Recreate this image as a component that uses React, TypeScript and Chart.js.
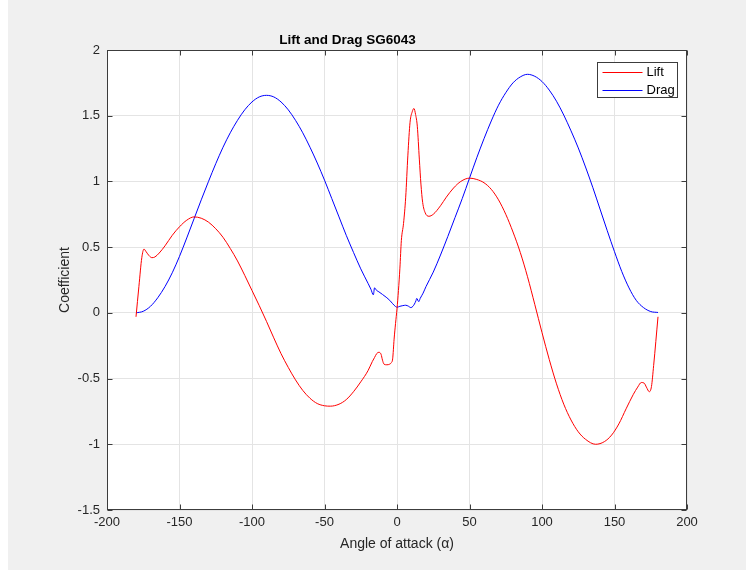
import React, { useEffect, useRef } from "react";
import { Chart, registerables } from "chart.js";

Chart.register(...registerables);

const chartTitle = "Lift and Drag SG6043";
const xAxisTitle = "Angle of attack (\u03b1)";
const yAxisTitle = "Coefficient";
const seriesNames = ["Lift", "Drag"];
const seriesColors = ["#ff0000", "#0000ff"];

const xTickValues = [-200, -150, -100, -50, 0, 50, 100, 150, 200];
const yTickValues = [-1.5, -1, -0.5, 0, 0.5, 1, 1.5, 2];

const liftAngles = [
  -180, -178, -176, -174.5, -173, -171, -169, -167, -164, -160, -155, -150, -145, -140, -135, -130,
  -125, -120, -115, -110, -105, -100, -95, -90, -85, -80, -75, -70, -65, -60, -55, -50, -46, -40,
  -35, -30, -25, -20, -17, -15.5, -14, -12.5, -11, -10, -9, -7, -5, -4, -3, -2, -1, 0, 1, 2, 3, 4.5,
  6, 7.5, 9, 10.5, 11.7, 12.8, 14, 15.4, 16.5, 17.7, 19.5, 22, 25, 30, 34, 39, 44, 50, 55, 60, 65,
  70, 75, 80, 85, 90, 95, 100, 105, 110, 115, 120, 125, 130, 137, 143, 148, 153, 158, 163, 166,
  168.5, 170.5, 172, 174, 175.5, 177, 180,
];
const liftValues = [
  -0.03, 0.2, 0.42, 0.485, 0.465, 0.435, 0.42, 0.425, 0.455, 0.51, 0.59, 0.655, 0.705, 0.73, 0.72,
  0.69, 0.64, 0.575, 0.49, 0.395, 0.285, 0.17, 0.055, -0.065, -0.19, -0.31, -0.415, -0.51, -0.59,
  -0.65, -0.69, -0.707, -0.71, -0.695, -0.66, -0.6, -0.525, -0.44, -0.37, -0.34, -0.31, -0.3,
  -0.315, -0.36, -0.39, -0.395, -0.39, -0.38, -0.35, -0.2, -0.08, 0.03, 0.17, 0.34, 0.55, 0.68,
  0.88, 1.2, 1.45, 1.53, 1.555, 1.51, 1.42, 1.17, 0.98, 0.84, 0.76, 0.735, 0.75, 0.815, 0.88, 0.95,
  1.0, 1.025, 1.015, 0.99, 0.94, 0.86, 0.75, 0.615, 0.46, 0.275, 0.065, -0.15, -0.355, -0.54, -0.695,
  -0.815, -0.905, -0.962, -1.0, -0.98, -0.93, -0.845, -0.73, -0.62, -0.565, -0.53, -0.535, -0.565,
  -0.6, -0.56, -0.4, -0.03,
];

const dragAngles = [
  -180, -175, -170, -165, -160, -155, -150, -145, -140, -135, -130, -125, -120, -115, -110, -105,
  -100, -95, -90, -85, -80, -75, -70, -65, -60, -55, -50, -45, -40, -35, -30, -25, -20, -18, -16.3,
  -15.5, -14, -12.5, -10, -7, -5, -3, -1, 0, 2, 4, 6, 8, 9.5, 11, 13, 13.6, 15, 16, 18, 20, 25, 30,
  35, 40, 45, 50, 55, 60, 65, 70, 75, 80, 85, 90, 95, 100, 105, 110, 115, 120, 125, 130, 135, 140,
  145, 150, 155, 160, 165, 170, 175, 180,
];
const dragValues = [
  0.0, 0.012, 0.05, 0.115, 0.2, 0.305, 0.43, 0.57, 0.715, 0.86, 1.0, 1.135, 1.26, 1.37, 1.465, 1.545,
  1.605, 1.643, 1.655, 1.643, 1.605, 1.545, 1.465, 1.37, 1.26, 1.14, 1.01, 0.87, 0.73, 0.59, 0.46,
  0.335, 0.225, 0.18, 0.137, 0.19, 0.17, 0.16, 0.14, 0.115, 0.095, 0.07, 0.048, 0.043, 0.05, 0.055,
  0.058, 0.05, 0.04, 0.05, 0.09, 0.11, 0.085, 0.11, 0.15, 0.2, 0.31, 0.44, 0.58, 0.725, 0.87, 1.025,
  1.18, 1.325, 1.46, 1.58, 1.675, 1.75, 1.795, 1.815, 1.8, 1.76, 1.695, 1.61, 1.505, 1.385, 1.255,
  1.11, 0.955, 0.79, 0.625, 0.465, 0.315, 0.19, 0.095, 0.04, 0.01, 0.003,
];

const FONT = "'Liberation Sans', Arial, Helvetica, sans-serif";
const AXIS_COLOR = "#262626";

const frame = {
  id: "matlabFrame",
  beforeDraw(chart: any) {
    const { ctx, chartArea: a } = chart;
    ctx.save();
    ctx.fillStyle = "#ffffff";
    ctx.fillRect(a.left, a.top, a.right - a.left, a.bottom - a.top);
    ctx.restore();
  },
  afterDraw(chart: any) {
    const { ctx, chartArea: a, scales } = chart;
    const L = Math.round(a.left) + 0.5;
    const R = Math.round(a.right) - 0.5;
    const T = Math.round(a.top) + 0.5;
    const B = Math.round(a.bottom) - 0.5;
    ctx.save();
    ctx.strokeStyle = "#3c3c3c";
    ctx.lineWidth = 1;
    ctx.strokeRect(L, T, R - L, B - T);
    const tl = 5;
    ctx.beginPath();
    xTickValues.forEach((v) => {
      const px = Math.round(scales.x.getPixelForValue(v)) + 0.5;
      ctx.moveTo(px, B);
      ctx.lineTo(px, B - tl);
      ctx.moveTo(px, T);
      ctx.lineTo(px, T + tl);
    });
    yTickValues.forEach((v) => {
      const py = Math.round(scales.y.getPixelForValue(v)) + 0.5;
      ctx.moveTo(L, py);
      ctx.lineTo(L + tl, py);
      ctx.moveTo(R, py);
      ctx.lineTo(R - tl, py);
    });
    ctx.stroke();

    // legend box (upper right, inside axes)
    const bw = 80;
    const bh = 35;
    const bx = Math.round(a.right - 10 - bw) + 0.5;
    const by = Math.round(a.top + 12) + 0.5;
    ctx.fillStyle = "#ffffff";
    ctx.fillRect(bx, by, bw, bh);
    ctx.strokeStyle = "#3c3c3c";
    ctx.strokeRect(bx, by, bw, bh);
    ctx.font = `13px ${FONT}`;
    ctx.textBaseline = "middle";
    ctx.textAlign = "left";
    seriesNames.forEach((name, i) => {
      const ly = Math.round(by + 9 + i * 18) + 0.5;
      ctx.strokeStyle = seriesColors[i];
      ctx.beginPath();
      ctx.moveTo(bx + 5, ly);
      ctx.lineTo(bx + 45, ly);
      ctx.stroke();
      ctx.fillStyle = "#000000";
      ctx.fillText(name, bx + 49, ly);
    });
    ctx.restore();
  },
};

export default function App() {
  const ref = useRef<HTMLCanvasElement | null>(null);

  useEffect(() => {
    if (!ref.current) return;
    const makeData = (xs: number[], ys: number[]) => xs.map((x, i) => ({ x, y: ys[i] }));
    const chart = new Chart(ref.current, {
      type: "line",
      data: {
        datasets: [
          {
            label: seriesNames[0],
            data: makeData(liftAngles, liftValues),
            borderColor: seriesColors[0],
            borderWidth: 1,
            pointRadius: 0,
            fill: false,
            cubicInterpolationMode: "monotone",
          },
          {
            label: seriesNames[1],
            data: makeData(dragAngles, dragValues),
            borderColor: seriesColors[1],
            borderWidth: 1,
            pointRadius: 0,
            fill: false,
            cubicInterpolationMode: "monotone",
          },
        ],
      },
      options: {
        animation: false,
        responsive: false,
        layout: { padding: { left: 0, right: 59, top: 0, bottom: 0 } },
        plugins: {
          legend: { display: false },
          tooltip: { enabled: false },
          title: {
            display: true,
            text: chartTitle,
            color: "#000000",
            font: { family: FONT, size: 13.5, weight: "bold" },
            padding: { top: 32, bottom: 1.8 },
          },
        },
        scales: {
          x: {
            type: "linear",
            min: -200,
            max: 200,
            afterBuildTicks: (s: any) => {
              s.ticks = xTickValues.map((v) => ({ value: v }));
            },
            afterFit: (s: any) => {
              s.height = 60;
            },
            grid: { color: "#e4e4e4", drawTicks: false },
            border: { display: false },
            ticks: {
              color: AXIS_COLOR,
              font: { family: FONT, size: 13 },
              padding: 5,
              maxRotation: 0,
              autoSkip: false,
              callback: (v: any) => String(v),
            },
            title: {
              display: true,
              text: xAxisTitle,
              color: AXIS_COLOR,
              font: { family: FONT, size: 14 },
              padding: { top: 2, bottom: 17 },
            },
          },
          y: {
            type: "linear",
            min: -1.5,
            max: 2,
            afterBuildTicks: (s: any) => {
              s.ticks = yTickValues.map((v) => ({ value: v }));
            },
            afterFit: (s: any) => {
              s.width = 99;
            },
            grid: { color: "#e4e4e4", drawTicks: false },
            border: { display: false },
            ticks: {
              color: AXIS_COLOR,
              font: { family: FONT, size: 13 },
              padding: 7,
              autoSkip: false,
              callback: (v: any) => String(v),
            },
            title: {
              display: true,
              text: yAxisTitle,
              color: AXIS_COLOR,
              font: { family: FONT, size: 14 },
              padding: { top: 49, bottom: 0 },
            },
          },
        },
      },
      plugins: [frame],
    } as any);
    return () => chart.destroy();
  }, []);

  return (
    <div
      style={{
        position: "fixed",
        left: 8,
        top: 0,
        width: 738,
        height: 570,
        background: "#f0f0f0",
      }}
    >
      <canvas ref={ref} width={738} height={570} style={{ display: "block" }} />
    </div>
  );
}
